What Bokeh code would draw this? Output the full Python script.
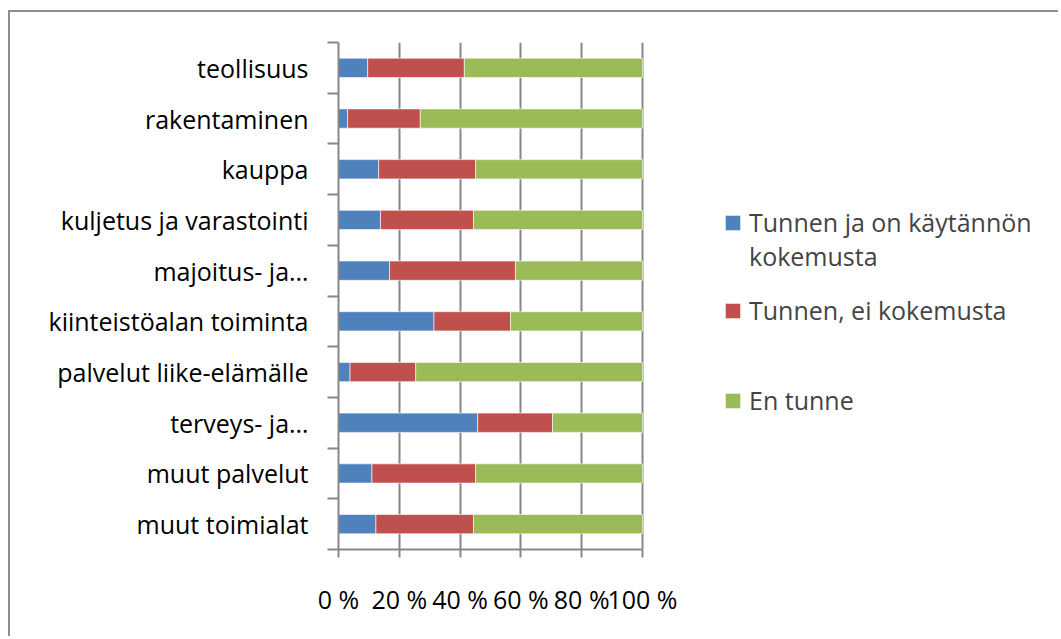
import numpy as np
from bokeh.plotting import figure
from bokeh.models import Range1d, FixedTicker, Legend, LegendItem, ColumnDataSource
from bokeh.embed import file_html
from bokeh.resources import INLINE

categories = ["teollisuus", "rakentaminen", "kauppa", "kuljetus ja varastointi",
              "majoitus- ja…", "kiinteistöalan toiminta", "palvelut liike-elämälle",
              "terveys- ja…", "muut palvelut", "muut toimialat"]
practical = [9.6, 3.0, 13.2, 13.8, 16.8, 31.4, 3.8, 45.8, 11.0, 12.3]
no_experience = [31.8, 23.9, 31.9, 30.6, 41.4, 25.2, 21.6, 24.6, 34.1, 32.1]
not_known = [58.6, 73.1, 54.9, 55.6, 41.8, 43.4, 74.6, 29.6, 54.9, 55.6]
series_names = ["Tunnen ja on käytännön", "Tunnen, ei kokemusta", "En tunne"]
series_name_cont = "kokemusta"   # second line of the first legend entry
tick_values = [0, 20, 40, 60, 80, 100]
tick_labels = ["0 %", "20 %", "40 %", "60 %", "80 %", "100 %"]

colors = ["#4F81BD", "#C0504D", "#9BBB59"]
FONT = "Open Sans"
FS = "25px"
GRAY = "#878787"

# layout (pixels)
W, H = 1050, 626
ML, MR, MT, MB = 328, 10, 30, 89
FRAME_W = W - ML - MR
AXIS_W = 304  # pixel span of the 0..100 % axis

n = len(categories)
ypos = [n - 1 - i + 0.5 for i in range(n)]
src = ColumnDataSource(dict(y=ypos, a=practical, b=no_experience, c=not_known))

p = figure(width=W, height=H, output_backend="svg", toolbar_location=None,
           x_range=Range1d(0, 100 * FRAME_W / AXIS_W), y_range=Range1d(0, n),
           min_border_left=ML, min_border_right=MR, min_border_top=MT, min_border_bottom=MB)
p.outline_line_color = None
p.styles = {"margin-left": "8px", "margin-top": "10px",
            "border-left": "2px solid #8f8f8f", "border-top": "2px solid #8f8f8f"}

rs = p.hbar_stack(["a", "b", "c"], y="y", height=0.38, color=colors,
                  line_color="white", line_alpha=0.6, line_width=1, source=src)

# x axis
p.xaxis.bounds = (0, 100)
p.xaxis.ticker = FixedTicker(ticks=tick_values)
p.xaxis.major_label_overrides = {v: l for v, l in zip(tick_values, tick_labels)}
p.xaxis.axis_line_color = GRAY
p.xaxis.axis_line_width = 2
p.xaxis.major_tick_line_color = GRAY
p.xaxis.major_tick_line_width = 2
p.xaxis.major_tick_out = 8
p.xaxis.major_tick_in = 0
p.xaxis.minor_tick_line_color = None
p.xaxis.major_label_standoff = 24
p.xaxis.major_label_text_font = FONT
p.xaxis.major_label_text_font_size = FS
p.xaxis.major_label_text_color = "black"

# y axis
bounds = list(range(n + 1))
p.yaxis.ticker = FixedTicker(ticks=ypos, minor_ticks=bounds)
p.yaxis.major_label_overrides = {y: c for y, c in zip(ypos, categories)}
p.yaxis.axis_line_color = GRAY
p.yaxis.axis_line_width = 2
p.yaxis.major_tick_line_color = None
p.yaxis.major_tick_out = 0
p.yaxis.major_tick_in = 0
p.yaxis.minor_tick_line_color = GRAY
p.yaxis.minor_tick_line_width = 2
p.yaxis.minor_tick_out = 11
p.yaxis.minor_tick_in = 0
p.yaxis.major_label_standoff = 19
p.yaxis.major_label_text_font = FONT
p.yaxis.major_label_text_font_size = FS
p.yaxis.major_label_text_color = "black"

p.xgrid.ticker = FixedTicker(ticks=tick_values)
p.xgrid.bounds = (0, 100)
p.xgrid.grid_line_color = GRAY
p.xgrid.grid_line_width = 2
p.ygrid.grid_line_color = None

def make_legend(items, loc):
    return Legend(items=items, location=loc,
                  glyph_width=19, glyph_height=19, label_standoff=7,
                  padding=0, margin=0, border_line_color=None, background_fill_alpha=0,
                  label_text_font=FONT, label_text_font_size=FS,
                  label_text_line_height=1.3, label_height=30)

locs = [(385, 310), (385, 222), (385, 132)]
for r, name, loc in zip(rs, series_names, locs):
    p.add_layout(make_legend([LegendItem(label=name, renderers=[r])], loc), "center")
p.add_layout(make_legend([LegendItem(label=series_name_cont, renderers=[])], (385, 276)), "center")

open("out.html", "w").write(file_html(p, INLINE))
